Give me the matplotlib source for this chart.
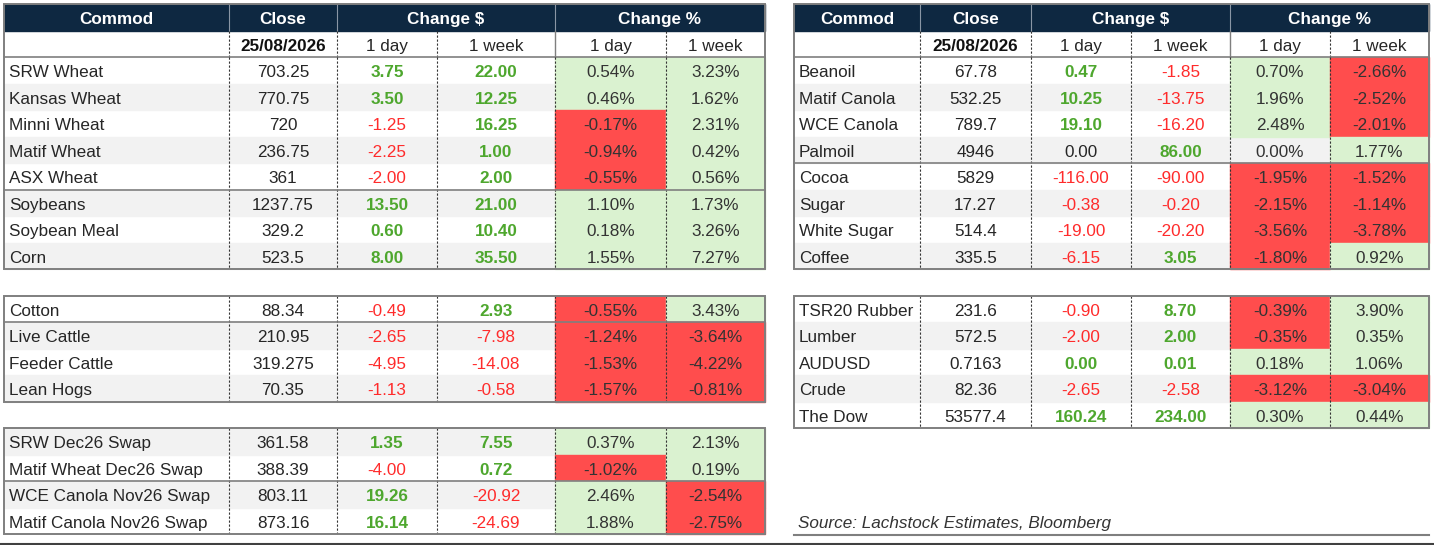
import matplotlib
matplotlib.use("Agg")
import matplotlib.pyplot as plt
from matplotlib.patches import Rectangle

plt.rcParams['font.family'] = ['Liberation Sans', 'DejaVu Sans']

# ---- data ----
date_label = "25/08/2026"

grains_names = ["SRW Wheat", "Kansas Wheat", "Minni Wheat", "Matif Wheat", "ASX Wheat",
                "Soybeans", "Soybean Meal", "Corn"]
grains_close = ["703.25", "770.75", "720", "236.75", "361", "1237.75", "329.2", "523.5"]
grains_day = [3.75, 3.50, -1.25, -2.25, -2.00, 13.50, 0.60, 8.00]
grains_week = [22.00, 12.25, 16.25, 1.00, 2.00, 21.00, 10.40, 35.50]
grains_pday = [0.54, 0.46, -0.17, -0.94, -0.55, 1.10, 0.18, 1.55]
grains_pweek = [3.23, 1.62, 2.31, 0.42, 0.56, 1.73, 3.26, 7.27]

soft_names = ["Cotton", "Live Cattle", "Feeder Cattle", "Lean Hogs"]
soft_close = ["88.34", "210.95", "319.275", "70.35"]
soft_day = [-0.49, -2.65, -4.95, -1.13]
soft_week = [2.93, -7.98, -14.08, -0.58]
soft_pday = [-0.55, -1.24, -1.53, -1.57]
soft_pweek = [3.43, -3.64, -4.22, -0.81]

swap_names = ["SRW Dec26 Swap", "Matif Wheat Dec26 Swap", "WCE Canola Nov26 Swap",
              "Matif Canola Nov26 Swap"]
swap_close = ["361.58", "388.39", "803.11", "873.16"]
swap_day = [1.35, -4.00, 19.26, 16.14]
swap_week = [7.55, 0.72, -20.92, -24.69]
swap_pday = [0.37, -1.02, 2.46, 1.88]
swap_pweek = [2.13, 0.19, -2.54, -2.75]

oil_names = ["Beanoil", "Matif Canola", "WCE Canola", "Palmoil", "Cocoa", "Sugar",
             "White Sugar", "Coffee"]
oil_close = ["67.78", "532.25", "789.7", "4946", "5829", "17.27", "514.4", "335.5"]
oil_day = [0.47, 10.25, 19.10, 0.00, -116.00, -0.38, -19.00, -6.15]
oil_week = [-1.85, -13.75, -16.20, 86.00, -90.00, -0.20, -20.20, 3.05]
oil_pday = [0.70, 1.96, 2.48, 0.00, -1.95, -2.15, -3.56, -1.80]
oil_pweek = [-2.66, -2.52, -2.01, 1.77, -1.52, -1.14, -3.78, 0.92]

other_names = ["TSR20 Rubber", "Lumber", "AUDUSD", "Crude", "The Dow"]
other_close = ["231.6", "572.5", "0.7163", "82.36", "53577.4"]
other_day = [-0.90, -2.00, 0.0013, -2.65, 160.24]
other_week = [8.70, 2.00, 0.0075, -2.58, 234.00]
other_pday = [-0.39, -0.35, 0.18, -3.12, 0.30]
other_pweek = [3.90, 0.35, 1.06, -3.04, 0.44]

headers = ["Commod", "Close", "Change $", "Change %"]
sub_headers = ["1 day", "1 week", "1 day", "1 week"]
source_text = "Source: Lachstock Estimates, Bloomberg"

# ---- style / layout ----
NAVY = "#0e2841"
SHADE = "#f2f2f2"
GREEN_FILL = "#daf2d0"
RED_FILL = "#ff4d4d"
GREEN_TXT = "#4ea72e"
RED_TXT = "#ff2b2b"
TXT = "#262626"
BORDER = "#7f7f7f"
FS = 12.3
DY = 1.0  # nudge text down a touch

TOP = 4
RH = 26.5
cols_left = [4, 229, 337, 437, 555, 666, 765]
cols_right = [794, 920, 1031, 1131, 1230, 1330, 1429]

fig = plt.figure(figsize=(14.34, 5.45), dpi=100)
ax = fig.add_axes([0, 0, 1, 1])
ax.set_xlim(0, 1434)
ax.set_ylim(545, 0)
ax.axis('off')


def ytop(k):
    return TOP + k * RH


def dashed(x, y0, y1):
    ax.plot([x, x], [y0, y1], color="#333333", lw=0.8, ls=(0, (2, 1.6)), zorder=4)


def draw_header(cols):
    y0 = ytop(0)
    ax.add_patch(Rectangle((cols[0], y0), cols[6] - cols[0], RH, color=NAVY, zorder=1))
    spans = [(cols[0], cols[1]), (cols[1], cols[2]), (cols[2], cols[4]), (cols[4], cols[6])]
    for (a, b), h in zip(spans, headers):
        ax.text((a + b) / 2, y0 + RH / 2 + DY, h, color="white", fontweight="bold", fontsize=FS,
                ha="center", va="center_baseline", zorder=5)
    for x in (cols[1], cols[2], cols[4]):
        ax.plot([x, x], [y0, y0 + RH], color="#8a96a5", lw=0.8, zorder=3)
    # sub header row
    y1 = ytop(1)
    ax.text((cols[1] + cols[2]) / 2, y1 + RH / 2 + DY, date_label, color="#111111",
            fontweight="bold", fontsize=FS, ha="center", va="center_baseline", zorder=5)
    for i, s in enumerate(sub_headers):
        xc = (cols[2 + i] + cols[3 + i]) / 2
        ax.text(xc, y1 + RH / 2 + DY, s, color=TXT, fontsize=FS, ha="center",
                va="center_baseline", zorder=5)
    for x in (cols[1], cols[2], cols[3], cols[5]):
        dashed(x, y1, y1 + RH)
    ax.plot([cols[4], cols[4]], [y1, y1 + RH], color=BORDER, lw=1.0, zorder=4)
    ax.plot([cols[0], cols[6]], [y1 + RH, y1 + RH], color=BORDER, lw=1.2, zorder=4)


def draw_block(cols, k0, names, close, dday, dweek, pday, pweek, shade_first, sep_after,
               with_header=False):
    n = len(names)
    for i in range(n):
        y = ytop(k0 + i)
        yc = y + RH / 2 + DY
        shaded = (i % 2 == 0) == shade_first
        if shaded:
            ax.add_patch(Rectangle((cols[0], y), cols[6] - cols[0], RH, color=SHADE, zorder=1))
        ax.text(cols[0] + 5, yc, names[i], color=TXT, fontsize=FS, ha="left",
                va="center_baseline", zorder=5)
        ax.text((cols[1] + cols[2]) / 2, yc, close[i], color=TXT, fontsize=FS, ha="center",
                va="center_baseline", zorder=5)
        for j, v in enumerate((dday[i], dweek[i])):
            if v > 0:
                c, w = GREEN_TXT, "bold"
            elif v < 0:
                c, w = RED_TXT, "normal"
            else:
                c, w = TXT, "normal"
            ax.text((cols[2 + j] + cols[3 + j]) / 2, yc, f"{v:.2f}", color=c, fontweight=w,
                    fontsize=FS, ha="center", va="center_baseline", zorder=5)
        for j, v in enumerate((pday[i], pweek[i])):
            a, b = cols[4 + j], cols[5 + j]
            if v != 0:
                ax.add_patch(Rectangle((a, y), b - a, RH, color=GREEN_FILL if v > 0 else RED_FILL,
                                       zorder=2))
            ax.text((a + b) / 2, yc, f"{v:.2f}%", color="#333333", fontsize=FS, ha="center",
                    va="center_baseline", zorder=5)
    y0 = ytop(k0)
    y1 = ytop(k0 + n)
    for x in cols[1:6]:
        dashed(x, y0, y1)
    for s in sep_after:
        ys = ytop(k0 + s + 1)
        ax.plot([cols[0], cols[6]], [ys, ys], color=BORDER, lw=1.2, zorder=4)
    top = ytop(0) if with_header else y0
    ax.add_patch(Rectangle((cols[0], top), cols[6] - cols[0], y1 - top, fill=False,
                           edgecolor=BORDER, lw=1.4, zorder=6))


draw_header(cols_left)
draw_block(cols_left, 2, grains_names, grains_close, grains_day, grains_week, grains_pday,
           grains_pweek, False, [4], with_header=True)
draw_block(cols_left, 11, soft_names, soft_close, soft_day, soft_week, soft_pday, soft_pweek,
           False, [0])
draw_block(cols_left, 16, swap_names, swap_close, swap_day, swap_week, swap_pday, swap_pweek,
           True, [1])

draw_header(cols_right)
draw_block(cols_right, 2, oil_names, oil_close, oil_day, oil_week, oil_pday, oil_pweek,
           False, [3], with_header=True)
draw_block(cols_right, 11, other_names, other_close, other_day, other_week, other_pday,
           other_pweek, False, [])

# source + bottom lines
ax.text(cols_right[0] + 4, 522, source_text, color="#333333", fontsize=FS, style="italic",
        ha="left", va="center_baseline")
ax.plot([cols_right[0], cols_right[6]], [535, 535], color=BORDER, lw=1.5)
ax.plot([0, 1434], [544, 544], color="#404040", lw=1.5)

fig.savefig("out.png", dpi=100)
